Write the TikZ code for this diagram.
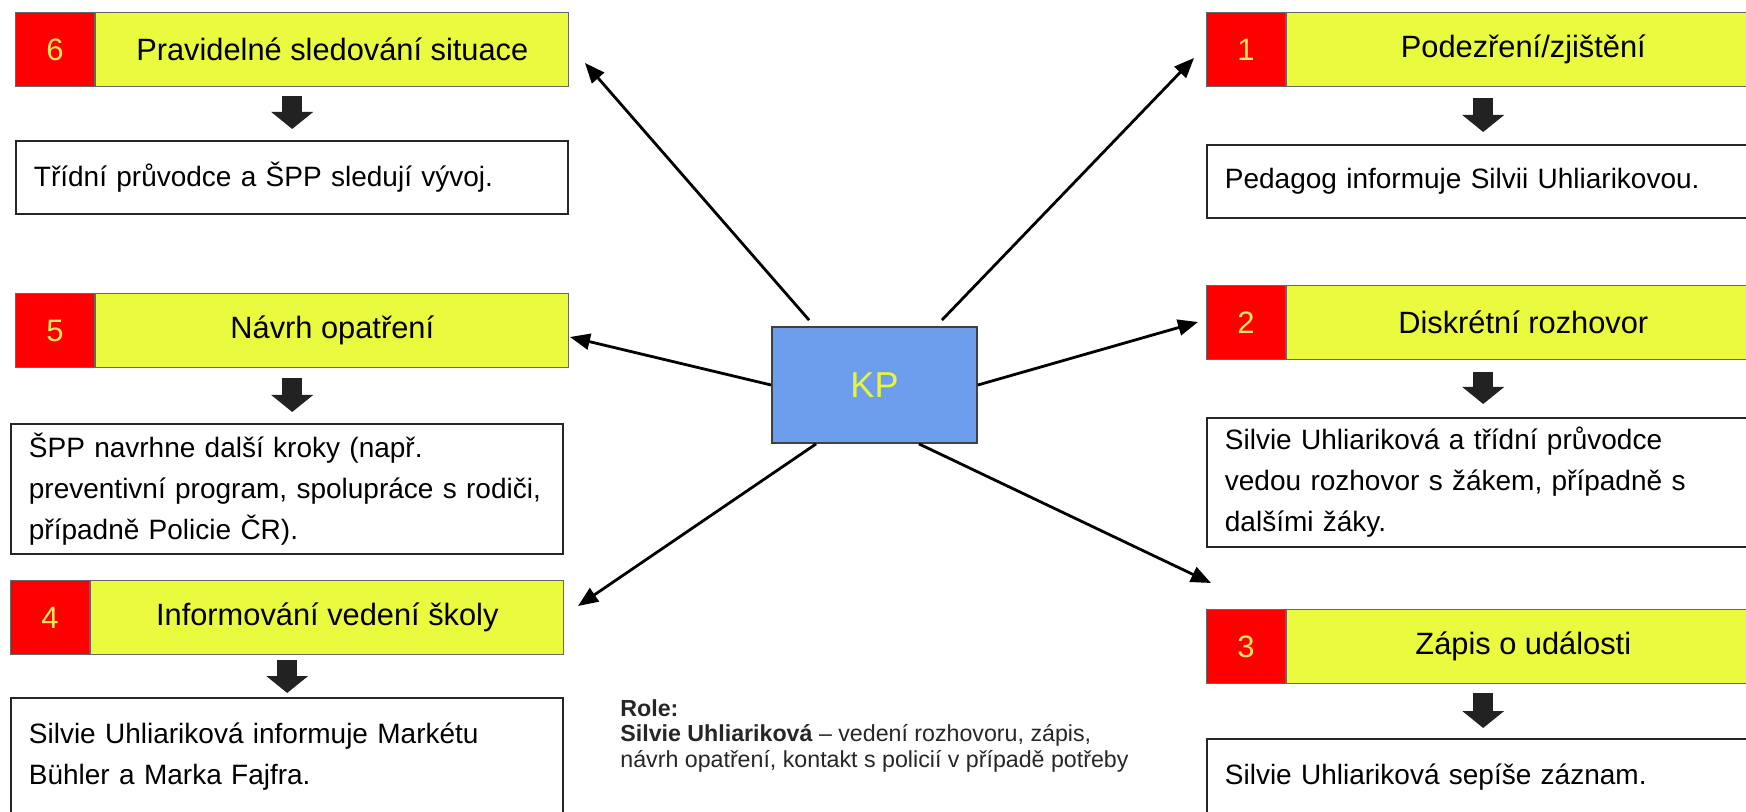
\documentclass[tikz,border=0pt]{standalone}
\usepackage{fontspec}
\setmainfont{Liberation Sans}
\usetikzlibrary{positioning,arrows.meta,calc}

\definecolor{numred}{RGB}{255,0,0}
\definecolor{hdryellow}{RGB}{234,250,62}
\definecolor{numyellow}{RGB}{255,230,90}
\definecolor{kpblue}{RGB}{109,158,235}
\definecolor{kptext}{RGB}{232,245,60}
\definecolor{fatgray}{RGB}{34,34,34}

\tikzset{
  stepnum/.style={draw=black!60, line width=0.6pt, fill=numred, text=numyellow,
    minimum width=39.5pt, minimum height=37pt, inner sep=0pt, anchor=north west,
    font=\fontsize{15.5}{17}\selectfont},
  steptitle/.style={draw=black!60, line width=0.6pt, fill=hdryellow, text=black,
    minimum width=236.5pt, minimum height=37pt, inner sep=0pt,
    font=\fontsize{15.4}{17}\selectfont},
  stepdesc/.style={draw=black!85, line width=0.9pt, fill=white, anchor=north west,
    text width=258pt, inner xsep=9pt, inner ysep=0pt, align=left,
    font=\fontsize{14}{20.5}\selectfont},
  kpbox/.style={draw=black!75, line width=0.9pt, fill=kpblue, text=kptext,
    minimum width=102.5pt, minimum height=58pt, font=\fontsize{18}{20}\selectfont},
  link/.style={-{Triangle[length=10pt,width=8pt]}, line width=1.4pt},
  fat/.style={-{Triangle[length=8.5pt,width=20.5pt]}, line width=10pt, draw=fatgray},
}

\begin{document}
\begin{tikzpicture}[x=0.5pt, y=-0.5pt]
\useasboundingbox (0,0) rectangle (1746,812);
\clip (0,0) rectangle (1746,812);
\fill[white] (0,0) rectangle (1746,812);

% left column
\node[stepnum] (n6) at (15,12) {6};
\node[steptitle, right=0pt of n6] (h6) {Pravidelné sledování situace};
\node[stepdesc, minimum height=36.5pt] (d6) at (15,140) {Třídní průvodce a ŠPP sledují vývoj.};

\node[stepnum] (n5) at (15,293) {5};
\node[steptitle, right=0pt of n5] (h5) {Návrh opatření};
\node[stepdesc, minimum height=65pt] (d5) at (10,423) {ŠPP navrhne další kroky (např.\\
  preventivní program, spolupráce s rodiči,\\ případně Policie ČR).};

\node[stepnum] (n4) at (10,580) {4};
\node[steptitle, right=0pt of n4] (h4) {Informování vedení školy};
\node[stepdesc, minimum height=58.5pt] (d4) at (10,697) {Silvie Uhliariková informuje Markétu\\
  Bühler a Marka Fajfra.};

% right column
\node[stepnum] (n1) at (1206,12) {1};
\node[steptitle, right=0pt of n1] (h1) {Podezření/zjištění};
\node[stepdesc, minimum height=36.5pt] (d1) at (1206,144) {Pedagog informuje Silvii Uhliarikovou.};

\node[stepnum] (n2) at (1206,285) {2};
\node[steptitle, right=0pt of n2] (h2) {Diskrétní rozhovor};
\node[stepdesc, minimum height=64.5pt] (d2) at (1206,417) {Silvie Uhliariková a třídní průvodce\\
  vedou rozhovor s žákem, případně s\\ dalšími žáky.};

\node[stepnum] (n3) at (1206,609) {3};
\node[steptitle, right=0pt of n3] (h3) {Zápis o události};
\node[stepdesc, minimum height=38pt] (d3) at (1206,738) {Silvie Uhliariková sepíše záznam.};

% centre
\node[kpbox] (kp) at (874.5,385) {KP};

\node[anchor=north west, align=left, inner sep=0pt, text=black!85,
  font=\fontsize{11.6}{12.8}\selectfont] (role) at (620,699)
  {\textbf{Role:}\\ \textbf{Silvie Uhliariková} – vedení rozhovoru, zápis,\\
   návrh opatření, kontakt s policií v případě potřeby};

% fat arrows between header and description
\foreach \s in {6,5,4,1,2,3}
  \coordinate (a\s) at ($(n\s.south west)!.5!(h\s.south east)$);
\draw[fat, shorten <=4.5pt, shorten >=5.5pt] (a6) -- (a6 |- d6.north);
\draw[fat, shorten <=5pt, shorten >=5.5pt] (a5) -- (a5 |- d5.north);
\draw[fat, shorten <=2.5pt, shorten >=2pt] (a4) -- (a4 |- d4.north);
\draw[fat, shorten <=5.5pt, shorten >=6pt] (a1) -- (a1 |- d1.north);
\draw[fat, shorten <=6pt, shorten >=6.5pt] (a2) -- (a2 |- d2.north);
\draw[fat, shorten <=4.5pt, shorten >=5pt] (a3) -- (a3 |- d3.north);

% arrows out of KP
\coordinate (t6) at (585,63);
\coordinate (t1) at (1194,58);
\coordinate (t5) at (570,337);
\coordinate (t2) at (1198,322);
\coordinate (t4) at (578,606);
\coordinate (t3) at (1211,583);
\draw[link] ([xshift=19pt,yshift=3pt]kp.north west) -- (t6);
\draw[link] ([xshift=-18pt,yshift=3pt]kp.north east) -- (t1);
\draw[link] (kp.west) -- (t5);
\draw[link] (kp.east) -- (t2);
\draw[link] ([xshift=22.5pt]kp.south west) -- (t4);
\draw[link] ([xshift=-29.5pt]kp.south east) -- (t3);
\end{tikzpicture}
\end{document}
